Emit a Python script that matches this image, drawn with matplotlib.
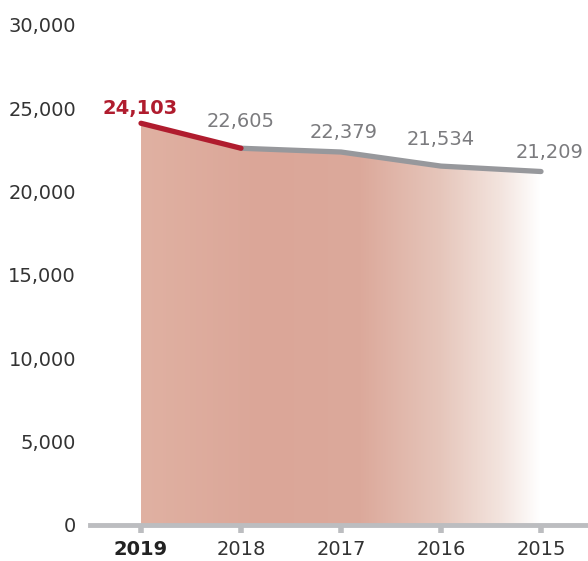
import numpy as np
import matplotlib.pyplot as plt
from matplotlib.colors import LinearSegmentedColormap

years = ['2019', '2018', '2017', '2016', '2015']
values = [24103, 22605, 22379, 21534, 21209]
y_ticks = [0, 5000, 10000, 15000, 20000, 25000, 30000]

red = '#b01c2e'
gray = '#97989c'

fig = plt.figure(figsize=(5.88, 5.61), dpi=100)
ax = fig.add_axes([90 / 588, 36 / 561, 498 / 588, 500 / 561])
x = np.arange(len(years))

# gradient fill under the line
cmap = LinearSegmentedColormap.from_list('fade', [
    (0.0, '#e0b1a2'), (0.3, '#dba698'), (0.55, '#dca99b'),
    (0.75, '#e6c6bb'), (0.9, '#f3e4de'), (1.0, '#ffffff')])
grad = np.linspace(0, 1, 256).reshape(1, -1)
img = ax.imshow(grad, extent=[x[0], x[-1], 0, max(values)], aspect='auto',
                cmap=cmap, zorder=1)
poly = ax.fill_between(x, values, 0, color='none')
img.set_clip_path(poly.get_paths()[0], transform=ax.transData)

# line: red for the latest year, gray for the rest
ax.plot(x[:2], values[:2], color=red, lw=3.8, solid_capstyle='round', zorder=3)
ax.plot(x[1:], values[1:], color=gray, lw=3.8, solid_capstyle='round', zorder=2)

# label offsets (points) as placed in the original
offsets = [(-1, 11), (0, 19), (2, 14), (0, 19.5), (6, 14)]
for i, v in enumerate(values):
    ax.annotate(f'{v:,}', (x[i], v), xytext=offsets[i], textcoords='offset points',
                ha='center', va='center', fontsize=14,
                color=red if i == 0 else '#7b7b7e',
                fontweight='bold' if i == 0 else 'normal')

ax.set_xlim(-0.51, 4.47)
ax.set_ylim(0, 30000)
ax.set_yticks(y_ticks)
ax.set_yticklabels([f'{t:,}' for t in y_ticks], fontsize=14, color='#333333')
ax.set_xticks(x)
ax.set_xticklabels(years, fontsize=14, color='#333333')
ax.get_xticklabels()[0].set_fontweight('bold')
ax.get_xticklabels()[0].set_color('#222222')

for s in ['top', 'right', 'left']:
    ax.spines[s].set_visible(False)
ax.spines['bottom'].set_color('#bcbdc0')
ax.spines['bottom'].set_linewidth(3.5)
ax.spines['bottom'].set_zorder(4)
ax.tick_params(axis='x', length=6, width=4, color='#bcbdc0', pad=5)
ax.tick_params(axis='y', length=0, pad=10)

fig.savefig('out.png', dpi=100)
